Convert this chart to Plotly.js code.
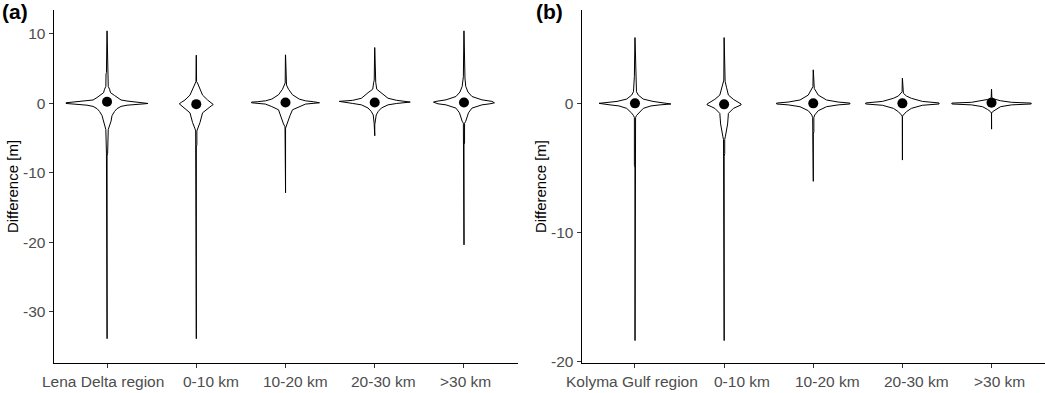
<!DOCTYPE html>
<html>
<head>
<meta charset="utf-8">
<script src="https://cdn.plot.ly/plotly-3.0.1.min.js"></script>
<style>html,body{margin:0;padding:0;background:#fff;} #chart{width:1045px;height:393px;}</style>
</head>
<body>
<div id="chart"></div>
<script>
// ---------- DATA ----------
const categoriesA = ["Lena Delta region", "0-10 km", "10-20 km", "20-30 km", ">30 km"];
const categoriesB = ["Kolyma Gulf region", "0-10 km", "10-20 km", "20-30 km", ">30 km"];

// medians (points), metres
const mediansA = [0.2, -0.15, 0.1, 0.1, 0.1];
const mediansB = [0.0, -0.08, 0.0, 0.0, 0.05];

// violin profiles: difference level [m] and relative density (arbitrary units)
const lenaAllY    = [10.4, 4.4, 4.2, 2.4, 2.0, 1.5, 1.1, 0.8, 0.45, 0.3, 0.2, 0.12, 0.05, -0.05, -0.12, -0.2, -0.3, -0.47, -0.8, -1.2, -1.8, -2.6, -3.4, -3.8, -7.2, -7.6, -33.9];
const lenaAllD    = [0.05, 0.6, 1.0, 1.2, 2.5, 3.5, 7.5, 10, 14, 20, 28, 36, 41, 41, 36, 28, 20, 14, 10, 7.5, 5, 4, 2, 1.2, 0.6, 0.05, 0.05];
const lena0to10Y  = [6.9, 3.1, 2.9, 2.2, 1.15, 0.45, 0.1, -0.1, -0.2, -0.4, -0.85, -1.4, -2.8, -3.6, -4.0, -6.0, -6.3, -33.9];
const lena0to10D  = [0.05, 0.3, 1.2, 3.5, 6.3, 11.3, 15, 17, 17, 15, 11.3, 6.3, 3.7, 1.5, 0.6, 0.6, 0.05, 0.05];
const lena10to20Y = [6.95, 2.9, 2.6, 2.0, 1.2, 0.58, 0.33, 0.2, 0.14, 0.05, -0.14, -0.5, -0.96, -1.8, -3.0, -3.4, -3.6, -12.9];
const lena10to20D = [0.05, 0.3, 1.0, 3, 7, 13.7, 20, 28, 34, 34, 20, 13.7, 7, 4.5, 2, 0.5, 0.05, 0.05];
const lena20to30Y = [8.0, 3.3, 3.0, 2.0, 1.5, 0.7, 0.4, 0.25, 0.15, -0.05, -0.25, -0.7, -1.2, -1.7, -2.9, -3.1, -4.7];
const lena20to30D = [0.05, 0.5, 1.0, 2, 6.7, 13.3, 22, 35.5, 35.5, 22, 13.3, 6.7, 3.5, 1.5, 0.6, 0.05, 0.05];
const lenaOver30Y = [10.4, 3.8, 3.6, 2.4, 1.6, 0.95, 0.47, 0.25, 0.14, 0.04, -0.1, -0.25, -0.72, -1.4, -2.6, -2.9, -5.75, -6.0, -20.4];
const lenaOver30D = [0.05, 0.6, 1.0, 1.8, 4, 8, 18, 28, 30.5, 30.5, 26, 18, 8, 4.5, 1.8, 0.6, 0.6, 0.05, 0.05];

const kolyAllY    = [5.1, 2.1, 2.0, 0.9, 0.64, 0.33, 0.15, 0.05, 0.0, -0.05, -0.12, -0.2, -0.39, -0.76, -0.95, -1.1, -4.8, -5.0, -18.4];
const kolyAllD    = [0.05, 0.6, 1.0, 1.5, 3.3, 8.3, 18, 30, 36, 36, 25, 16, 8.3, 3.3, 1.5, 0.6, 0.6, 0.05, 0.05];
const koly0to10Y  = [5.1, 1.8, 1.7, 1.2, 0.64, 0.31, 0.08, -0.05, -0.12, -0.25, -0.39, -0.78, -1.6, -2.6, -2.8, -3.9, -4.1, -18.4];
const koly0to10D  = [0.05, 0.3, 1.0, 2.5, 4.3, 9.3, 14, 17, 17, 13, 9.3, 4.3, 3.5, 1.2, 0.6, 0.6, 0.05, 0.05];
const koly10to20Y = [2.6, 1.3, 1.16, 0.64, 0.26, 0.1, 0.02, -0.05, -0.12, -0.26, -0.57, -0.9, -1.1, -2.2, -2.4, -6.05];
const koly10to20D = [0.05, 0.3, 1.0, 5, 13.3, 25, 36.7, 36.7, 25, 13.3, 5, 1.5, 0.6, 0.6, 0.05, 0.05];
const koly20to30Y = [1.95, 0.9, 0.78, 0.57, 0.39, 0.15, 0.03, -0.05, -0.15, -0.39, -0.65, -0.9, -1.0, -4.4];
const koly20to30D = [0.05, 0.3, 1.0, 4, 9, 20, 36.7, 36.7, 20, 9, 4, 1.0, 0.05, 0.05];
const kolyOver30Y = [1.1, 0.45, 0.35, 0.3, 0.2, 0.08, 0.02, -0.05, -0.12, -0.26, -0.47, -0.65, -0.75, -2.0];
const kolyOver30D = [0.05, 0.3, 2.0, 4, 9, 20, 39.7, 39.7, 20, 9, 4, 1.0, 0.05, 0.05];

const yTicksA = [10, 0, -10, -20, -30];
const yTicksB = [0, -10, -20];

// ---------- DRAWING ----------
const profilesA = [[lenaAllY, lenaAllD], [lena0to10Y, lena0to10D], [lena10to20Y, lena10to20D], [lena20to30Y, lena20to30D], [lenaOver30Y, lenaOver30D]];
const profilesB = [[kolyAllY, kolyAllD], [koly0to10Y, koly0to10D], [koly10to20Y, koly10to20D], [koly20to30Y, koly20to30D], [kolyOver30Y, kolyOver30D]];
const DENS_SCALE = 1 / 89.25; // density units -> category half-width

function violinTrace(i, prof, xa, ya) {
  const ys = prof[0], ds = prof[1];
  const x = [], y = [];
  for (let k = 0; k < ys.length; k++) { x.push(i + ds[k] * DENS_SCALE); y.push(ys[k]); }
  for (let k = ys.length - 1; k >= 0; k--) { x.push(i - ds[k] * DENS_SCALE); y.push(ys[k]); }
  x.push(x[0]); y.push(y[0]);
  return {
    type: 'scatter', mode: 'lines', x: x, y: y, xaxis: xa, yaxis: ya,
    fill: 'toself', fillcolor: '#ffffff',
    line: { color: '#000000', width: 1 }, hoverinfo: 'skip', showlegend: false
  };
}

const traces = [];
profilesA.forEach((p, i) => traces.push(violinTrace(i, p, 'x', 'y')));
profilesB.forEach((p, i) => traces.push(violinTrace(i, p, 'x2', 'y2')));
traces.push({ type: 'scatter', mode: 'markers', x: categoriesA.map((c, i) => i), y: mediansA, xaxis: 'x', yaxis: 'y',
  marker: { color: '#000', size: 10 }, showlegend: false, text: categoriesA });
traces.push({ type: 'scatter', mode: 'markers', x: categoriesB.map((c, i) => i), y: mediansB, xaxis: 'x2', yaxis: 'y2',
  marker: { color: '#000', size: 10 }, showlegend: false, text: categoriesB });

const FONT = '"Liberation Sans", Arial, sans-serif';
function xAxis(domain, cats) {
  return {
    domain: domain, range: [-0.6, 4.6], tickvals: cats.map((c, i) => i), ticktext: cats, showticklabels: false,
    showline: true, linecolor: '#000', linewidth: 1, ticks: 'outside', ticklen: 4, tickcolor: '#333', tickwidth: 1,
    showgrid: false, zeroline: false, automargin: false
  };
}
function yAxis(range, ticks, anchor) {
  return {
    domain: [30 / 393, 383 / 393], range: range, tickvals: ticks, ticktext: ticks.map(String), anchor: anchor,
    showline: true, linecolor: '#000', linewidth: 1, ticks: 'outside', ticklen: 4, tickcolor: '#333', tickwidth: 1,
    showgrid: false, zeroline: false, automargin: false,
    tickfont: { family: FONT, size: 15.5, color: '#4D4D4D' },
    title: { text: 'Difference [m]', font: { family: FONT, size: 15, color: '#000' }, standoff: 0 }
  };
}

// category labels drawn as text under each tick (the reference shows them slightly offset)
const labelShiftA = [-4, 15, 10, 9, 2];
const labelShiftB = [-3, 18, 14, 14, 8];
function catLabels(cats, xref, shifts) {
  return cats.map((c, i) => ({
    text: c, xref: xref, yref: 'paper', x: i, y: 30 / 393, xanchor: 'center', yanchor: 'middle',
    yshift: -18, xshift: shifts[i], showarrow: false,
    font: { family: FONT, size: 15.5, color: '#4D4D4D' }
  }));
}

const layout = {
  width: 1045, height: 393,
  margin: { l: 0, r: 0, t: 0, b: 0 },
  paper_bgcolor: '#fff', plot_bgcolor: '#fff',
  showlegend: false,
  xaxis: Object.assign(xAxis([53.5 / 1045, 517.5 / 1045], categoriesA), { anchor: 'y' }),
  yaxis: yAxis([-37.4, 13.4], yTicksA, 'x'),
  xaxis2: Object.assign(xAxis([581.5 / 1045, 1], categoriesB), { anchor: 'y2' }),
  yaxis2: yAxis([-20.14, 7.24], yTicksB, 'x2'),
  annotations: [
    { text: '<b>(a)</b>', xref: 'paper', yref: 'paper', x: 0, y: 1, xanchor: 'left', yanchor: 'top', showarrow: false,
      font: { family: FONT, size: 21, color: '#000' }, yshift: 2 },
    { text: '<b>(b)</b>', xref: 'paper', yref: 'paper', x: 534 / 1045, y: 1, xanchor: 'left', yanchor: 'top', showarrow: false,
      font: { family: FONT, size: 21, color: '#000' }, yshift: 2 }
  ].concat(catLabels(categoriesA, 'x', labelShiftA), catLabels(categoriesB, 'x2', labelShiftB))
};

Plotly.newPlot('chart', traces, layout, { displayModeBar: false, staticPlot: true });
</script>
</body>
</html>
